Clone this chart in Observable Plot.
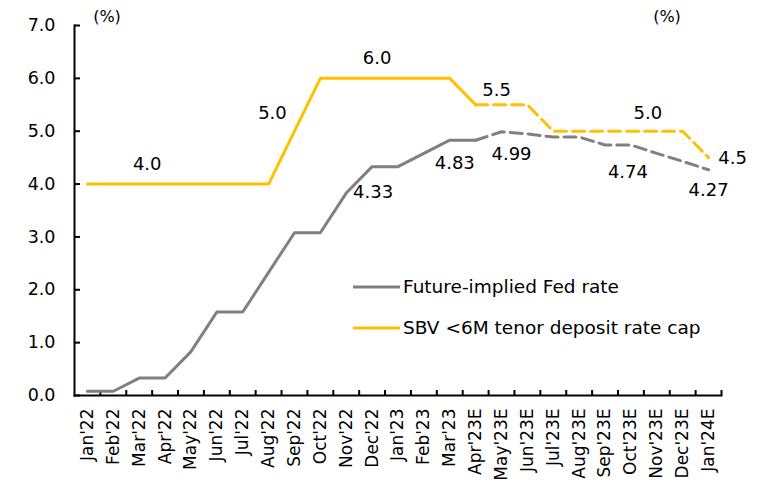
<!DOCTYPE html>
<html>
<head>
<meta charset="utf-8">
<script src="https://cdn.jsdelivr.net/npm/d3@7"></script>
<script src="https://cdn.jsdelivr.net/npm/@observablehq/plot@0.6"></script>
<style>
  html, body { margin: 0; padding: 0; background: #fff; }
  #wrap { position: relative; width: 765px; height: 492px; font-family: "DejaVu Sans", sans-serif; }
  .ov { position: absolute; color: #000; white-space: nowrap; line-height: 1; }
  .unit { font-size: 16px; transform: translate(-50%, -50%); }
  .lg { font-size: 18.5px; transform: translateY(-50%); }
  .sw { position: absolute; height: 3px; width: 47px; transform: translateY(-50%); }
</style>
</head>
<body>
<div id="wrap"></div>
<script>
const months = ["Jan'22","Feb'22","Mar'22","Apr'22","May'22","Jun'22","Jul'22","Aug'22","Sep'22","Oct'22","Nov'22","Dec'22",
  "Jan'23","Feb'23","Mar'23","Apr'23E","May'23E","Jun'23E","Jul'23E","Aug'23E","Sep'23E","Oct'23E","Nov'23E","Dec'23E","Jan'24E"];
const fedRate = [0.08,0.08,0.33,0.33,0.83,1.58,1.58,2.33,3.08,3.08,3.83,4.33,4.33,4.58,4.83,4.83,4.99,4.95,4.89,4.89,4.74,4.74,4.58,4.43,4.27];
const sbvCap  = [4.0,4.0,4.0,4.0,4.0,4.0,4.0,4.0,5.0,6.0,6.0,6.0,6.0,6.0,6.0,5.5,5.5,5.5,5.0,5.0,5.0,5.0,5.0,5.0,4.5];
const firstForecast = "Apr'23E";
const yTicks = [0,1,2,3,4,5,6,7];
const seriesNames = ["Future-implied Fed rate", "SBV <6M tenor deposit rate cap"];
const colors = ["#808080", "#FFC000"];

// value annotations: month, text
const sbvLabels = [["Mar'22","4.0"],["Sep'22","5.0"],["Dec'22","6.0"],["May'23E","5.5"],["Nov'23E","5.0"],["Jan'24E","4.5"]];
const fedLabels = [["Dec'22","4.33"],["Mar'23","4.83"],["May'23E","4.99"],["Oct'23E","4.74"],["Jan'24E","4.27"]];

const W = 765, H = 492, mL = 74, mR = 44, mT = 25, mB = 97;
const step = (W - mL - mR) / months.length;
const plotW = W - mL - mR, plotH = H - mT - mB;
const fi = months.indexOf(firstForecast);

const rows = months.map((m, i) => ({m, i, fed: fedRate[i], sbv: sbvCap[i]}));
const actual = rows.filter(d => d.i <= fi);
const forecast = rows.filter(d => d.i >= fi);
const valOf = (key, m) => rows.find(r => r.m === m)[key];

// label offsets (px) in the same order as the label lists
const sbvOff = [[8,-20],[-22,-18],[5,-20],[-5,-15],[-9,-18],[24,1]];
const fedOff = [[1,26],[5,23],[10,22],[-3,27],[0,20]];
const ann = [
  ...sbvLabels.map(([m, t], k) => ({m, t, v: valOf("sbv", m), o: sbvOff[k]})),
  ...fedLabels.map(([m, t], k) => ({m, t, v: valOf("fed", m), o: fedOff[k]}))
];
const textMarks = ann.map(a => Plot.text([a], {x: "m", y: "v", text: "t", dx: a.o[0], dy: a.o[1], fontSize: 18, fill: "#000"}));

const chart = Plot.plot({
  width: W, height: H,
  marginLeft: mL, marginRight: mR, marginTop: mT, marginBottom: mB,
  style: {fontFamily: "DejaVu Sans, sans-serif", background: "#fff", color: "#000"},
  x: {type: "point", domain: months, padding: 0.5, round: false, axis: null},
  y: {domain: [0, 7], axis: null},
  marks: [
    // y tick labels and inward ticks
    Plot.text(yTicks, {y: d => d, text: d => d3.format(".1f")(d), frameAnchor: "left", textAnchor: "end", dx: -19, fontSize: 17.5, fill: "#000"}),
    Plot.tickY(yTicks, {y: d => d, insetRight: plotW - 6, stroke: "#000", strokeWidth: 2}),
    // x tick labels (rotated) and inward boundary ticks
    Plot.text(months, {x: d => d, frameAnchor: "bottom", rotate: -90, textAnchor: "end", lineAnchor: "middle", dy: 13, fontSize: 17, fill: "#000"}),
    Plot.tickX(months, {x: d => d, dx: step / 2, insetTop: plotH - 5, stroke: "#000", strokeWidth: 2}),
    Plot.frame({anchor: "left", stroke: "#000", strokeWidth: 2}),
    Plot.frame({anchor: "bottom", stroke: "#000", strokeWidth: 2}),
    Plot.line(actual, {x: "m", y: "sbv", stroke: colors[1], strokeWidth: 3}),
    Plot.line(forecast, {x: "m", y: "sbv", stroke: colors[1], strokeWidth: 3, strokeDasharray: "12,6"}),
    Plot.line(actual, {x: "m", y: "fed", stroke: colors[0], strokeWidth: 3}),
    Plot.line(forecast, {x: "m", y: "fed", stroke: colors[0], strokeWidth: 3, strokeDasharray: "12,6"}),
    ...textMarks
  ]
});

const wrap = document.getElementById("wrap");
wrap.appendChild(chart);
function ov(cls, txt, x, y) {
  const d = document.createElement("div");
  d.className = "ov " + cls; d.textContent = txt;
  d.style.left = x + "px"; d.style.top = y + "px";
  wrap.appendChild(d);
}
ov("unit", "(%)", 107, 17);
ov("unit", "(%)", 667, 17);
seriesNames.forEach((n, k) => {
  const y = [287, 328][k];
  const s = document.createElement("div");
  s.className = "sw"; s.style.left = "353px"; s.style.top = y + "px"; s.style.background = colors[k];
  wrap.appendChild(s);
  ov("lg", n, 403, y);
});
</script>
</body>
</html>
